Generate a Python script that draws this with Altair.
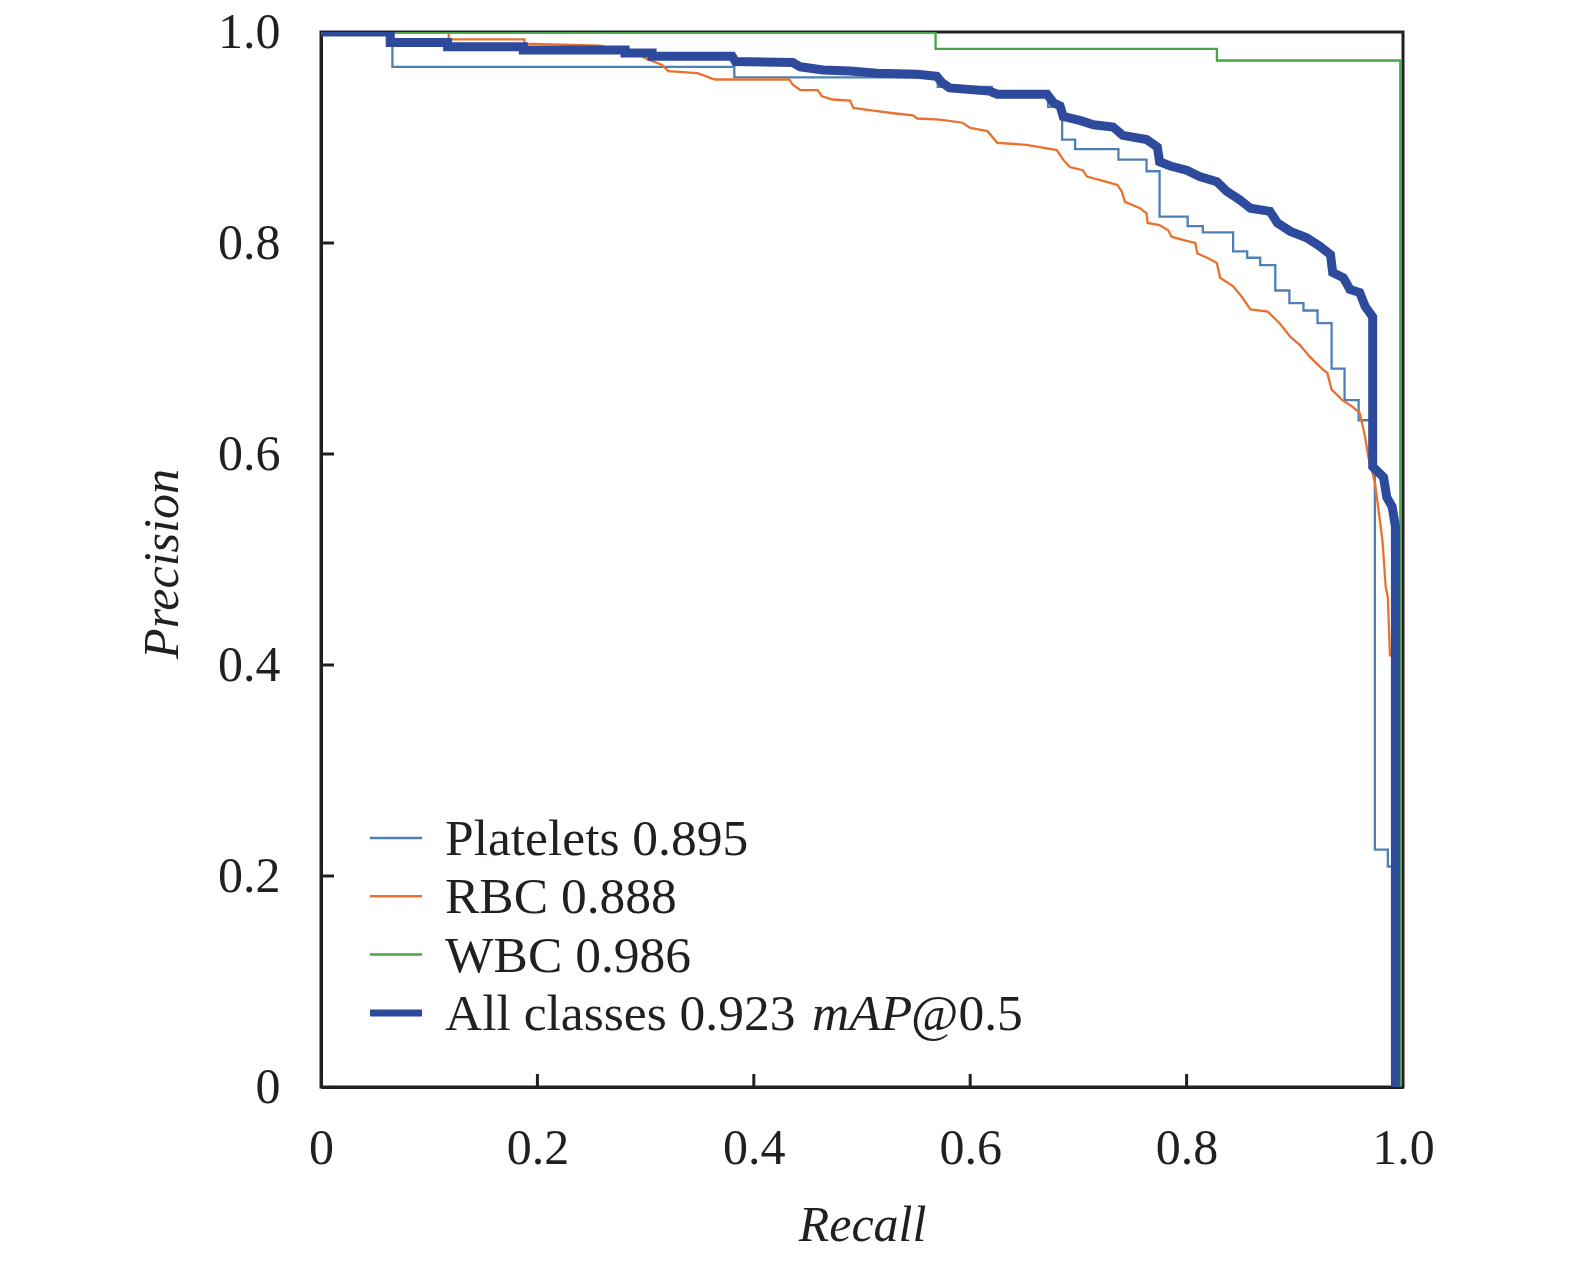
import pandas as pd
import altair as alt

# ---- values ----
plt_recall = [0.0, 0.066, 0.382, 0.57, 0.62, 0.672, 0.685, 0.697, 0.737, 0.763,
              0.775, 0.801, 0.815, 0.843, 0.856, 0.868, 0.882, 0.895, 0.908, 0.921,
              0.934, 0.946, 0.959, 0.974, 0.986, 0.994]
plt_precision = [1.0, 0.967, 0.957, 0.948, 0.940, 0.929, 0.898, 0.889, 0.879, 0.868,
                 0.825, 0.816, 0.810, 0.792, 0.786, 0.779, 0.755, 0.743, 0.736, 0.724,
                 0.681, 0.651, 0.632, 0.225, 0.209, 0.0]

rbc_recall = [0.0, 0.118, 0.118, 0.188, 0.188, 0.258, 0.295, 0.302, 0.315, 0.321,
              0.348, 0.364, 0.433, 0.436, 0.443, 0.459, 0.463, 0.473, 0.489, 0.492,
              0.514, 0.529, 0.547, 0.551, 0.572, 0.593, 0.600, 0.616, 0.625, 0.652,
              0.680, 0.686, 0.692, 0.704, 0.708, 0.726, 0.736, 0.740, 0.743, 0.757,
              0.763, 0.764, 0.775, 0.783, 0.786, 0.800, 0.808, 0.810, 0.819, 0.828,
              0.831, 0.843, 0.851, 0.859, 0.875, 0.886, 0.896, 0.905, 0.914, 0.926,
              0.930, 0.934, 0.944, 0.953, 0.960, 0.965, 0.968, 0.974, 0.977, 0.981,
              0.984, 0.986, 0.988]
rbc_precision = [1.0, 1.0, 0.993, 0.993, 0.989, 0.987, 0.978, 0.974, 0.969, 0.963,
                 0.961, 0.955, 0.955, 0.950, 0.945, 0.945, 0.939, 0.936, 0.935, 0.928,
                 0.925, 0.923, 0.921, 0.918, 0.917, 0.914, 0.909, 0.906, 0.895, 0.893,
                 0.888, 0.879, 0.872, 0.869, 0.863, 0.858, 0.855, 0.849, 0.839, 0.833,
                 0.828, 0.819, 0.817, 0.812, 0.806, 0.802, 0.800, 0.790, 0.786, 0.781,
                 0.767, 0.759, 0.749, 0.737, 0.735, 0.724, 0.711, 0.703, 0.692, 0.680,
                 0.677, 0.661, 0.651, 0.645, 0.639, 0.616, 0.597, 0.573, 0.550, 0.518,
                 0.474, 0.464, 0.408]

wbc_recall = [0.0, 0.568, 0.828, 0.9975]
wbc_precision = [1.0, 0.984, 0.973, 0.0]

all_recall = [0.0, 0.064, 0.064, 0.117, 0.117, 0.187, 0.187, 0.281, 0.281, 0.306,
              0.306, 0.380, 0.383, 0.436, 0.443, 0.464, 0.489, 0.514, 0.551, 0.569,
              0.574, 0.581, 0.618, 0.625, 0.671, 0.677, 0.683, 0.686, 0.702, 0.714,
              0.732, 0.741, 0.763, 0.773, 0.775, 0.785, 0.800, 0.812, 0.828, 0.837,
              0.849, 0.859, 0.877, 0.884, 0.896, 0.911, 0.923, 0.933, 0.935, 0.945,
              0.951, 0.960, 0.965, 0.972, 0.972, 0.982, 0.985, 0.990, 0.993, 0.993]
all_precision = [1.0, 1.0, 0.990, 0.990, 0.986, 0.986, 0.983, 0.983, 0.980, 0.980,
                 0.977, 0.977, 0.972, 0.971, 0.967, 0.964, 0.963, 0.961, 0.960, 0.958,
                 0.952, 0.947, 0.944, 0.941, 0.941, 0.933, 0.930, 0.920, 0.916, 0.912,
                 0.910, 0.902, 0.898, 0.891, 0.877, 0.873, 0.869, 0.863, 0.858, 0.849,
                 0.841, 0.833, 0.830, 0.819, 0.811, 0.805, 0.797, 0.789, 0.772, 0.767,
                 0.756, 0.753, 0.740, 0.730, 0.588, 0.578, 0.559, 0.550, 0.531, 0.0]

legend_labels = ["Platelets 0.895", "RBC 0.888", "WBC 0.986", "All classes 0.923"]
colors = ["#4e80b5", "#e9712f", "#47a548", "#2e4a9c"]
tick_values = [0.2, 0.4, 0.6, 0.8]

ink = "#231f20"
serif = "Liberation Serif"
W, H = 1082, 1055

x_scale = alt.Scale(domain=[0, 1], nice=False, zero=False)
y_scale = alt.Scale(domain=[0, 1], nice=False, zero=False)
label_expr = "datum.value == 0 ? '0' : format(datum.value, '.1f')"

x_axis = alt.Axis(
    title="Recall", values=[0, 0.2, 0.4, 0.6, 0.8, 1.0], labelExpr=label_expr,
    labelFont=serif, labelFontSize=50, labelColor=ink, labelPadding=36,
    labelFlush=False, labelOverlap=False, ticks=False, tickSize=0, grid=False,
    domainColor=ink, domainWidth=3,
    titleFont=serif, titleFontSize=50, titleFontStyle="italic", titleFontWeight="normal",
    titleColor=ink, titleBaseline="alphabetic", titleY=153,
)
y_axis = alt.Axis(
    title="Precision", values=[0, 0.2, 0.4, 0.6, 0.8, 1.0], labelExpr=label_expr,
    labelFont=serif, labelFontSize=50, labelColor=ink, labelPadding=41,
    labelFlush=False, labelOverlap=False, ticks=False, tickSize=0, grid=False,
    domainColor=ink, domainWidth=3,
    titleFont=serif, titleFontSize=50, titleFontStyle="italic", titleFontWeight="normal",
    titleColor=ink, titleAngle=270, titleAlign="center", titleBaseline="alphabetic",
    titleX=-144, titleY=H / 2 + 4,
)


def curve(recall, precision, color, width, interp):
    df = pd.DataFrame({"recall": recall, "precision": precision, "i": range(len(recall))})
    return alt.Chart(df).mark_line(
        color=color, strokeWidth=width, interpolate=interp, clip=True
    ).encode(
        x=alt.X("recall:Q", scale=x_scale, axis=x_axis),
        y=alt.Y("precision:Q", scale=y_scale, axis=y_axis),
        order="i:Q",
    )


layers = [
    curve(plt_recall, plt_precision, colors[0], 2.3, "step-after"),
    curve(rbc_recall, rbc_precision, colors[1], 2.3, "linear"),
    curve(wbc_recall, wbc_precision, colors[2], 2.3, "step-after"),
    curve(all_recall, all_precision, colors[3], 9, "linear"),
]

# inward ticks
ticks = pd.DataFrame({"t": tick_values})
layers.append(
    alt.Chart(ticks).mark_rule(color=ink, strokeWidth=3).encode(
        x=alt.X("t:Q", scale=x_scale, axis=x_axis), y=alt.value(H), y2=alt.value(H - 13)
    )
)
layers.append(
    alt.Chart(ticks).mark_rule(color=ink, strokeWidth=3).encode(
        y=alt.Y("t:Q", scale=y_scale, axis=y_axis), x=alt.value(0), x2=alt.value(13)
    )
)

# legend inside the plot, lower left
row_gap = 58.3
for k, (lab, col) in enumerate(zip(legend_labels, colors)):
    df = pd.DataFrame({"label": [lab]})
    yc = 806 + row_gap * k
    layers.append(
        alt.Chart(df).mark_rule(color=col, strokeWidth=7 if k == 3 else 2.5).encode(
            x=alt.value(49), x2=alt.value(101), y=alt.value(yc)
        )
    )
    layers.append(
        alt.Chart(df).mark_text(
            align="left", baseline="alphabetic", font=serif, fontSize=51.5, color=ink
        ).encode(text="label:N", x=alt.value(124), y=alt.value(yc + 17))
    )

# "mAP@0.5" tail of the last legend entry, with italic mAP
tail_y = 806 + row_gap * 3 + 17
layers.append(
    alt.Chart(pd.DataFrame({"label": ["mAP"]})).mark_text(
        align="left", baseline="alphabetic", font=serif, fontSize=51.5,
        fontStyle="italic", color=ink
    ).encode(text="label:N", x=alt.value(491), y=alt.value(tail_y))
)
layers.append(
    alt.Chart(pd.DataFrame({"label": ["@0.5"]})).mark_text(
        align="left", baseline="alphabetic", font=serif, fontSize=51.5, color=ink
    ).encode(text="label:N", x=alt.value(590), y=alt.value(tail_y))
)

chart = (
    alt.layer(*layers)
    .properties(
        width=W,
        height=H,
        autosize=alt.AutoSizeParams(type="none"),
        padding={"left": 313, "top": 24, "right": 150, "bottom": 170},
        background="white",
    )
    .configure_view(stroke=ink, strokeWidth=3)
)

chart.save("out.html", embed_options={"renderer": "svg", "actions": False})
